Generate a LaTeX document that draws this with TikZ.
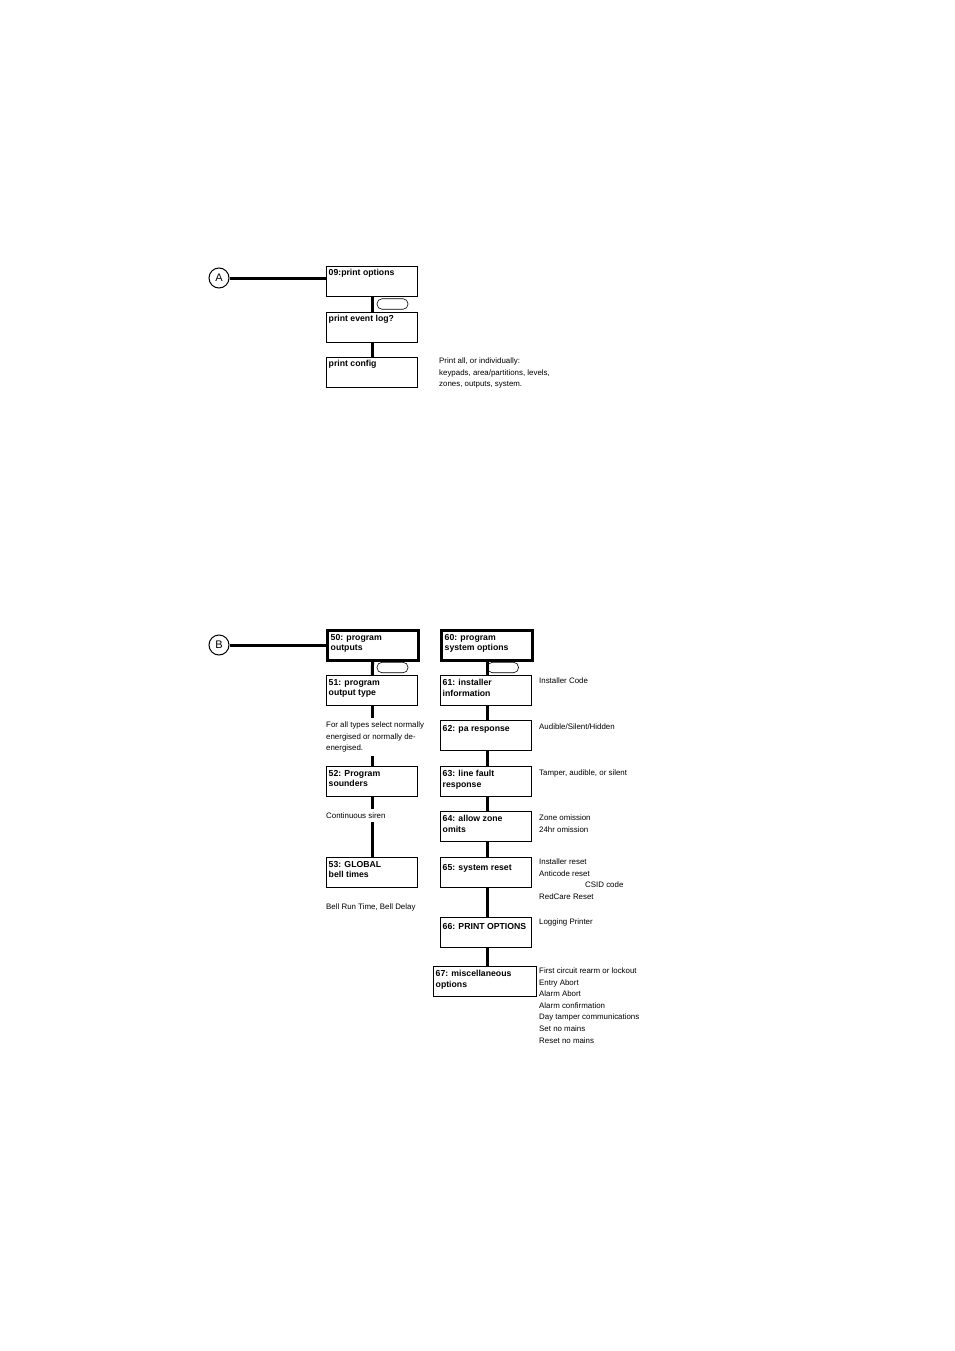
\documentclass[tikz,border=0pt]{standalone}
\usepackage{fontspec}
\setmainfont{Liberation Sans}
\usetikzlibrary{positioning}

\begin{document}
\begin{tikzpicture}[
  x=1pt, y=-1pt,
  menubox/.style = {draw, line width=1.2pt, minimum width=91pt, minimum height=30pt, anchor=north west, inner sep=0pt},
  topbox/.style = {menubox, line width=2.6pt},
  boxlabel/.style = {anchor=north west, inner sep=0pt, align=left, font=\fontsize{8.7}{10.5}\selectfont\bfseries},
  note/.style = {anchor=north west, inner sep=0pt, align=left, font=\fontsize{7.9}{11.6}\selectfont},
  keycap/.style = {draw, line width=0.6pt, rounded corners=5pt, minimum width=31pt, minimum height=10.5pt, inner sep=0pt},
  marker/.style = {draw, circle, line width=1pt, minimum size=20pt, inner sep=0pt, fill=white, font=\fontsize{11}{12}\selectfont},
  link/.style = {line width=3pt}
]
  \useasboundingbox (0,0) rectangle (954,1351);

  % Print options
  \node[menubox] (popt) at (326,266) {};
  \node[menubox] (plog) at (326,312) {};
  \node[menubox] (pcfg) at (326,357) {};
  \node[boxlabel] at ([shift={(2.5,3)}]popt.north west) {09:print options};
  \node[boxlabel] at ([shift={(2.5,3)}]plog.north west) {print event log?};
  \node[boxlabel] at ([shift={(2.5,3)}]pcfg.north west) {print config};
  \node[note] (ncfg) at (439,357.5) {Print all, or individually:\\keypads, area/partitions, levels,\\zones, outputs, system.};

  \draw[link] (popt) -- (plog);
  \draw[link] (plog) -- (pcfg);
  \node[keycap] (kA) at (392.5,304) {};

  \node[marker] (mA) at (219,278) {A};
  \draw[link] (mA.east) -- (mA.east -| popt.west);

  % Program outputs
  \node[topbox] (o50) at (326,629) {};
  \node[menubox] (o51) at (326,675) {};
  \node[menubox] (o52) at (326,766) {};
  \node[menubox] (o53) at (326,857) {};
  \node[boxlabel] at ([shift={(4.5,5)}]o50.north west) {50: program\\outputs};
  \node[boxlabel] at ([shift={(2.5,4)}]o51.north west) {51: program\\output type};
  \node[boxlabel] at ([shift={(2.5,4)}]o52.north west) {52: Program\\sounders};
  \node[boxlabel] at ([shift={(2.5,4)}]o53.north west) {53: GLOBAL\\bell times};
  \node[note] (n51) at (326,721.5) {For all types select normally\\energised or normally de-\\energised.};
  \node[note] (n52) at (326,812.5) {Continuous siren};
  \node[note] (n53) at (326,904) {Bell Run Time, Bell Delay};

  \draw[link] (o50) -- (o51);
  \draw[link] (o51.south) -- ++(0,12);
  \draw[link] (o52.north) -- ++(0,-10);
  \draw[link] (o52.south) -- ++(0,12);
  \draw[link] (o53.north) -- ++(0,-35);
  \node[keycap] (kB) at (392.5,667.5) {};

  \node[marker] (mB) at (219,645) {B};
  \draw[link] (mB.east) -- (mB.east -| o50.west);

  % System options
  \node[topbox] (s60) at (440,629) {};
  \node[menubox] (s61) at (440,675) {};
  \node[menubox] (s62) at (440,720) {};
  \node[menubox] (s63) at (440,766) {};
  \node[menubox] (s64) at (440,811) {};
  \node[menubox] (s65) at (440,857) {};
  \node[menubox] (s66) at (440,917) {};
  \node[menubox, minimum width=103pt] (s67) at (433,966) {};
  \node[boxlabel] at ([shift={(4.5,5)}]s60.north west) {60: program\\system options};
  \node[boxlabel] at ([shift={(2.5,4)}]s61.north west) {61: installer\\information};
  \node[boxlabel] at ([shift={(2.5,5)}]s62.north west) {62: pa response};
  \node[boxlabel] at ([shift={(2.5,4)}]s63.north west) {63: line fault\\response};
  \node[boxlabel] at ([shift={(2.5,4)}]s64.north west) {64: allow zone\\omits};
  \node[boxlabel] at ([shift={(2.5,7)}]s65.north west) {65: system reset};
  \node[boxlabel] at ([shift={(2.5,6)}]s66.north west) {66: PRINT OPTIONS};
  \node[boxlabel] at ([shift={(2.5,4)}]s67.north west) {67: miscellaneous\\options};

  \node[note] (n61) at (539,677.5) {Installer Code};
  \node[note] (n62) at (539,723.5) {Audible/Silent/Hidden};
  \node[note] (n63) at (539,769.5) {Tamper, audible, or silent};
  \node[note] (n64) at (539,814.5) {Zone omission\\24hr omission};
  \node[note] (n65) at (539,858.5) {Installer reset\\Anticode reset\\\hspace*{46pt}CSID code\\RedCare Reset};
  \node[note] (n66) at (539,918.5) {Logging Printer};
  \node[note] (n67) at (539,967.5) {First circuit rearm or lockout\\Entry Abort\\Alarm Abort\\Alarm confirmation\\Day tamper communications\\Set no mains\\Reset no mains};

  \draw[link] (s60.south -| 487,0) -- (s61.north -| 487,0);
  \draw[link] (s61.south -| 487,0) -- (s62.north -| 487,0);
  \draw[link] (s62.south -| 487,0) -- (s63.north -| 487,0);
  \draw[link] (s63.south -| 487,0) -- (s64.north -| 487,0);
  \draw[link] (s64.south -| 487,0) -- (s65.north -| 487,0);
  \draw[link] (s65.south -| 487,0) -- (s66.north -| 487,0);
  \draw[link] (s66.south -| 487,0) -- (s67.north -| 487,0);
  \node[keycap] (kC) at (503,667.5) {};

\end{tikzpicture}
\end{document}
